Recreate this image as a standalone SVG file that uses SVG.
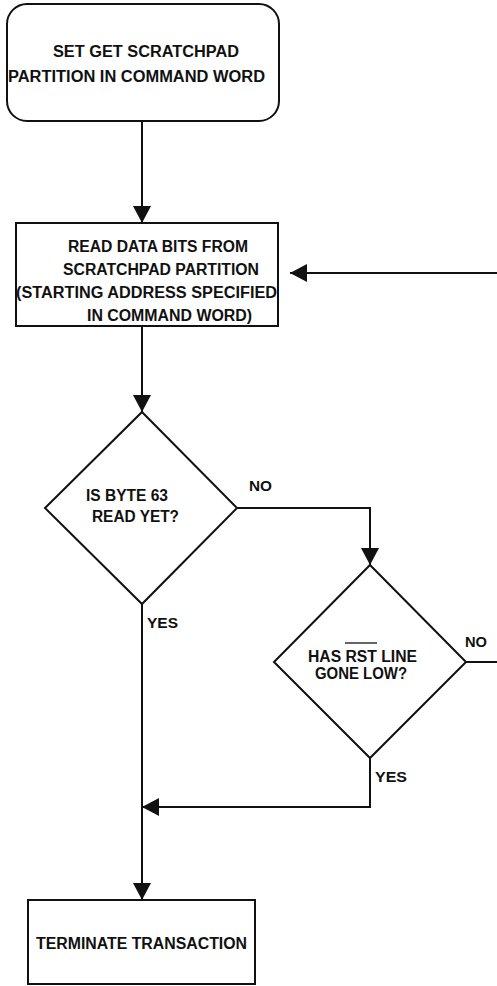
<svg xmlns="http://www.w3.org/2000/svg" width="497" height="986" viewBox="0 0 497 986">
  <style>
    .shape { fill: #ffffff; stroke: #111111; stroke-width: 2; }
    .wire { fill: none; stroke: #111111; stroke-width: 2; }
    text { font-family: "Liberation Sans", Arial, Helvetica, sans-serif; font-weight: bold; font-size: 16px; fill: #111111; text-anchor: middle; }
    .lbl { font-size: 15.5px; }
  </style>
  <defs>
    <marker id="arrow" markerUnits="userSpaceOnUse" markerWidth="18" markerHeight="18" refX="17" refY="9" orient="auto" viewBox="0 0 18 18">
      <path d="M0,0 L17,9 L0,18 Z" fill="#111111"/>
    </marker>
  </defs>

  <rect width="497" height="986" fill="#ffffff"/>

  <!-- connectors -->
  <g id="connectors">
    <line class="wire" x1="142" y1="121" x2="142" y2="223" marker-end="url(#arrow)"/>
    <line class="wire" x1="497" y1="273" x2="290" y2="273" marker-end="url(#arrow)"/>
    <line class="wire" x1="142" y1="326" x2="142" y2="412" marker-end="url(#arrow)"/>
    <polyline class="wire" points="237,508 370,508 370,565" marker-end="url(#arrow)"/>
    <line class="wire" x1="466" y1="662" x2="497" y2="662"/>
    <line class="wire" x1="142" y1="604" x2="142" y2="900" marker-end="url(#arrow)"/>
    <polyline class="wire" points="370,758 370,807 142,807" marker-end="url(#arrow)"/>
    <text class="lbl" x="260.5" y="491" textLength="23" lengthAdjust="spacingAndGlyphs">NO</text>
    <text class="lbl" x="162.5" y="628" textLength="31" lengthAdjust="spacingAndGlyphs">YES</text>
    <text class="lbl" x="476" y="647" textLength="22" lengthAdjust="spacingAndGlyphs">NO</text>
    <text class="lbl" x="391" y="782" textLength="32" lengthAdjust="spacingAndGlyphs">YES</text>
  </g>

  <!-- start: set get scratchpad -->
  <g id="start">
    <rect class="shape" x="7" y="4" width="272" height="117" rx="20" ry="20"/>
    <text x="146" y="57" textLength="186" lengthAdjust="spacingAndGlyphs">SET GET SCRATCHPAD</text>
    <text x="136.5" y="81.5" textLength="257" lengthAdjust="spacingAndGlyphs">PARTITION IN COMMAND WORD</text>
  </g>

  <!-- read data bits -->
  <g id="read-data">
    <rect class="shape" x="16" y="223" width="262" height="103"/>
    <text x="158" y="251.5" textLength="180" lengthAdjust="spacingAndGlyphs">READ DATA BITS FROM</text>
    <text x="161" y="275" textLength="196" lengthAdjust="spacingAndGlyphs">SCRATCHPAD PARTITION</text>
    <text x="146.5" y="297.5" textLength="261" lengthAdjust="spacingAndGlyphs">(STARTING ADDRESS SPECIFIED</text>
    <text x="169.5" y="320.5" textLength="165" lengthAdjust="spacingAndGlyphs">IN COMMAND WORD)</text>
  </g>

  <!-- decision: byte 63 -->
  <g id="byte63">
    <polygon class="shape" points="142,412 237,508 142,604 45,508"/>
    <text x="127" y="500.5" textLength="82" lengthAdjust="spacingAndGlyphs">IS BYTE 63</text>
    <text x="135.5" y="522" textLength="87" lengthAdjust="spacingAndGlyphs">READ YET?</text>
  </g>

  <!-- decision: reset line (active-low RST, overbar) -->
  <g id="rst-low">
    <polygon class="shape" points="370,565 466,662 370,758 274,662"/>
    <line x1="345" y1="643" x2="377" y2="643" stroke="#111111" stroke-width="1.3"/>
    <text x="362.5" y="661.5" textLength="109" lengthAdjust="spacingAndGlyphs">HAS RST LINE</text>
    <text x="361" y="679" textLength="92" lengthAdjust="spacingAndGlyphs">GONE LOW?</text>
  </g>

  <!-- end: terminate -->
  <g id="terminate">
    <rect class="shape" x="28" y="900" width="227" height="84"/>
    <text x="141.5" y="949" textLength="211" lengthAdjust="spacingAndGlyphs">TERMINATE TRANSACTION</text>
  </g>
</svg>
